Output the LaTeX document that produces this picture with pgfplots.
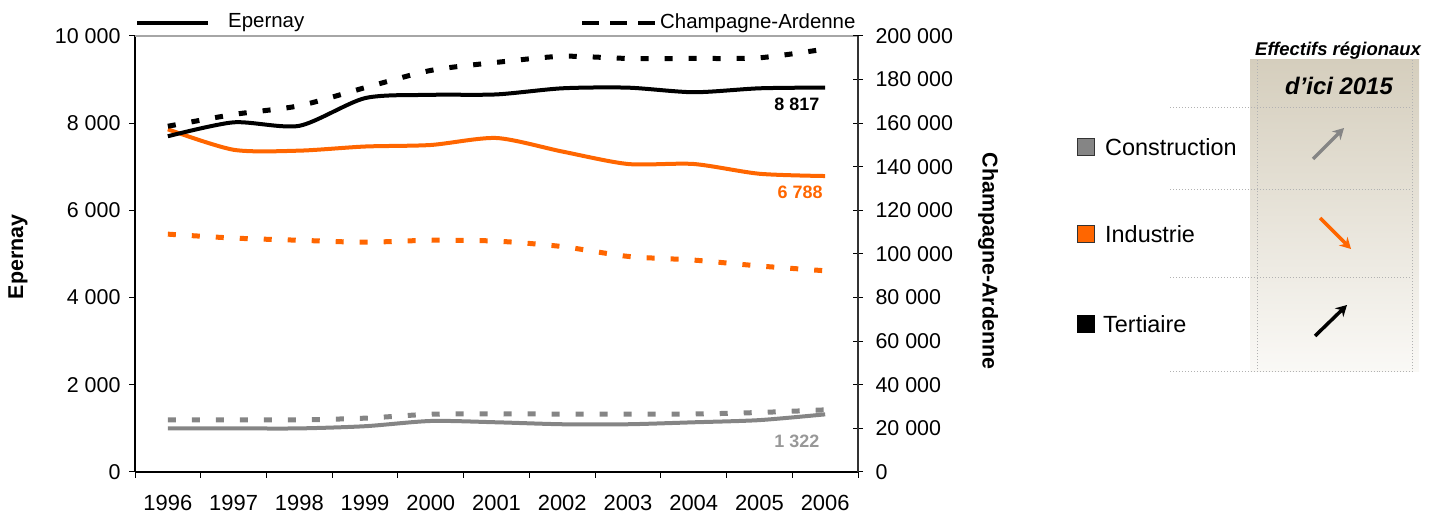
\documentclass[border=0pt]{standalone}
\usepackage{fontspec}
\setmainfont{Liberation Sans}
\usepackage{pgfplots}
\pgfplotsset{compat=1.18}
\usetikzlibrary{arrows.meta}
\definecolor{orng}{HTML}{FF6600}
\definecolor{gry}{HTML}{858585}
\definecolor{gtxt}{HTML}{989898}
\definecolor{boxtop}{HTML}{D5CEBD}
\definecolor{boxbot}{HTML}{FAF9F6}
\newcommand{\fs}[1]{\fontsize{#1}{#1}\selectfont}

\begin{document}
\begin{tikzpicture}[x=1bp,y=1bp]
\path (0,0) rectangle (1440,513);
\pgfplotsset{
  common/.style={
    at={(135bp,41bp)}, anchor=south west, scale only axis,
    width=723bp, height=436bp, xmin=1995.5, xmax=2006.5,
    clip=false, scaled y ticks=false,
    tick label style={font=\fs{21.5}},
  },
  solidl/.style={line width=4bp, smooth, tension=0.45, no markers},
  dashl/.style={line width=5bp, smooth, tension=0.45, no markers, dash pattern=on 8bp off 16bp},
}
\begin{axis}[common,
  axis x line*=bottom, axis y line*=left,
  ymin=0, ymax=10000,
  ytick={0,2000,4000,6000,8000,10000},
  yticklabels={0,2 000,4 000,6 000,8 000,10 000},
  xtick={1996,1997,1998,1999,2000,2001,2002,2003,2004,2005,2006},
  xticklabels={1996,1997,1998,1999,2000,2001,2002,2003,2004,2005,2006},
  major x tick style={draw=none},
  minor xtick={1995.5,1996.5,1997.5,1998.5,1999.5,2000.5,2001.5,2002.5,2003.5,2004.5,2005.5,2006.5},
  tick align=outside, major tick length=6bp, minor tick length=6bp,
  tick style={black, line width=1bp},
  axis line style={black, line width=1.2bp},
  xticklabel style={yshift=-14bp, font=\fs{22}},
  yticklabel style={xshift=-5bp},
]
\draw[gray!70, line width=1.2bp] (rel axis cs:0,1) -- (rel axis cs:1,1);
% Epernay (solid)
\addplot[solidl, gry] coordinates {(1996,1000)(1997,1000)(1998,1000)(1999,1050)(2000,1170)(2001,1140)(2002,1095)(2003,1095)(2004,1140)(2005,1190)(2006,1322)};
\addplot[solidl, orng] coordinates {(1996,7860)(1997,7390)(1998,7370)(1999,7465)(2000,7500)(2001,7660)(2002,7350)(2003,7064)(2004,7064)(2005,6840)(2006,6788)};
\addplot[solidl, black] coordinates {(1996,7700)(1997,8020)(1998,7940)(1999,8575)(2000,8650)(2001,8660)(2002,8800)(2003,8815)(2004,8710)(2005,8800)(2006,8817)};
\node[font=\bfseries\fs{18}, black] at (axis cs:2005.57,8440) {8 817};
\node[font=\bfseries\fs{18}, orng] at (axis cs:2005.62,6422) {6 788};
\node[font=\bfseries\fs{18}, gtxt] at (axis cs:2005.57,711) {1 322};
\end{axis}
\begin{axis}[common,
  axis x line=none, axis y line*=right,
  ymin=0, ymax=200000,
  ytick={0,20000,40000,60000,80000,100000,120000,140000,160000,180000,200000},
  yticklabels={0,20 000,40 000,60 000,80 000,100 000,120 000,140 000,160 000,180 000,200 000},
  tick align=center, major tick length=10bp,
  tick style={black, line width=1bp},
  axis line style={black!80, line width=1.2bp},
  yticklabel style={xshift=9bp},
]
\addplot[dashl, gry] coordinates {(1996,23900)(1997,23900)(1998,23900)(1999,24700)(2000,26500)(2001,26600)(2002,26600)(2003,26600)(2004,26600)(2005,27300)(2006,28500)};
\addplot[dashl, orng] coordinates {(1996,109100)(1997,107300)(1998,106300)(1999,105400)(2000,106300)(2001,105900)(2002,103400)(2003,98900)(2004,97200)(2005,94500)(2006,92300)};
\addplot[dashl, black] coordinates {(1996,158600)(1997,164000)(1998,168000)(1999,176300)(2000,184200)(2001,187900)(2002,190700)(2003,189700)(2004,189700)(2005,190000)(2006,194000)};
\end{axis}
% axis titles
\node[rotate=90, font=\bfseries\fs{21.5}] at (18,256) {Epernay};
\node[rotate=-90, font=\bfseries\fs{21.5}] at (988,252) {Champagne-Ardenne};
% top legend
\draw[line width=4bp] (137,490) -- (208,490);
\node[anchor=west, inner sep=0, font=\fs{20.5}] at (228,490) {Epernay};
\draw[line width=4bp, dash pattern=on 16.5bp off 11.5bp] (582,490) -- (655,490);
\node[anchor=west, inner sep=0, font=\fs{20.5}] at (660,490) {Champagne-Ardenne};
% right panel
\shade[top color=boxtop, bottom color=boxbot] (1250,141) rectangle (1419,453);
\foreach \yy in {405,323,235,141} \draw[gray!60, line width=1bp, dotted] (1170,\yy) -- (1411,\yy);
\foreach \xx in {1257,1412} \draw[gray!60, line width=1bp, dotted] (\xx,141) -- (\xx,453);
\node[font=\bfseries\itshape\fs{18.5}] at (1338,462) {Effectifs régionaux};
\node[font=\bfseries\itshape\fs{24}] at (1339,427) {d’ici 2015};
\filldraw[fill=gry, draw=black!80, line width=1bp] (1077,357) rectangle (1094,374);
\filldraw[fill=orng, draw=black!80, line width=1bp] (1077,270) rectangle (1094,287);
\filldraw[fill=black, draw=black, line width=1bp] (1077,180) rectangle (1094,197);
\node[anchor=west, inner sep=0, font=\fs{23.5}] at (1105,366) {Construction};
\node[anchor=west, inner sep=0, font=\fs{23.5}] at (1105,279) {Industrie};
\node[anchor=west, inner sep=0, font=\fs{23.5}] at (1103,189) {Tertiaire};
\draw[gry, line width=3.5bp, -{Stealth[length=11bp, width=12bp]}] (1313,354) -- (1344,385);
\draw[orng, line width=3.5bp, -{Stealth[length=11bp, width=12bp]}] (1320,295) -- (1351,264);
\draw[black, line width=3.5bp, -{Stealth[length=11bp, width=12bp]}] (1315,177) -- (1347,208);
\end{tikzpicture}
\end{document}
